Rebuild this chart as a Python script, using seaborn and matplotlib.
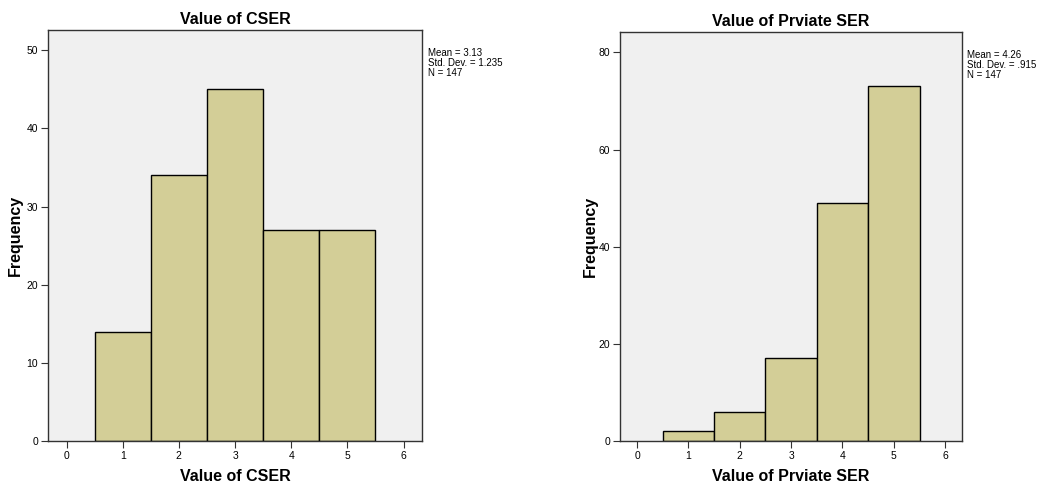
import numpy as np
import pandas as pd
import matplotlib
matplotlib.use("Agg")
import matplotlib.pyplot as plt
import seaborn as sns

# category values (score 1..5) and counts
scores = [1, 2, 3, 4, 5]
cser_counts = [14, 34, 45, 27, 27]
private_counts = [2, 6, 17, 49, 73]
x_ticks = [0, 1, 2, 3, 4, 5, 6]
cser_yticks = [0, 10, 20, 30, 40, 50]
private_yticks = [0, 20, 40, 60, 80]
cser_stats = "Mean = 3.13\nStd. Dev. = 1.235\nN = 147"
private_stats = "Mean = 4.26\nStd. Dev. = .915\nN = 147"

sns.set_style("white")
plt.rcParams['font.family'] = ['Liberation Sans', 'DejaVu Sans']
plt.rcParams['text.color'] = 'black'
plt.rcParams['axes.labelcolor'] = 'black'
plt.rcParams['xtick.color'] = 'black'
plt.rcParams['ytick.color'] = 'black'

bar_color = "#D3CE97"
bg_color = "#F0F0F0"

fig = plt.figure(figsize=(10.37, 4.86), dpi=100)
ax1 = fig.add_axes([0.0463, 0.0926, 0.3607, 0.8457])
ax2 = fig.add_axes([0.598, 0.0926, 0.3298, 0.8416])


def draw(ax, counts, title, yticks, ymax, stats, ylab_x):
    df = pd.DataFrame({"score": scores, "count": counts})
    sns.histplot(data=df, x="score", weights="count", discrete=True,
                 color=bar_color, alpha=1, edgecolor="black", linewidth=1.0, ax=ax)
    ax.set_facecolor(bg_color)
    ax.set_xlim(-0.33, 6.33)
    ax.set_ylim(0, ymax)
    ax.set_xticks(x_ticks)
    ax.set_yticks(yticks)
    ax.tick_params(axis="both", labelsize=7.5, length=5, width=0.8,
                   direction="out", color="#333333", pad=2,
                   bottom=True, left=True)
    for s in ax.spines.values():
        s.set_color("#333333")
        s.set_linewidth(1.0)
    ax.set_title(title, fontsize=11.5, fontweight="bold", pad=4)
    ax.set_xlabel(title, fontsize=11.5, fontweight="bold", labelpad=6)
    ax.set_ylabel("Frequency", fontsize=11.5, fontweight="bold")
    ax.yaxis.set_label_coords(ylab_x, 0.5)
    ax.text(1.015, 0.955, stats, transform=ax.transAxes, fontsize=7,
            va="top", ha="left", linespacing=0.95)


draw(ax1, cser_counts, "Value of CSER", cser_yticks, 52.6, cser_stats, -0.068)
draw(ax2, private_counts, "Value of Prviate SER", private_yticks, 84.2, private_stats, -0.066)

fig.savefig("out.png", dpi=100, facecolor="white")
